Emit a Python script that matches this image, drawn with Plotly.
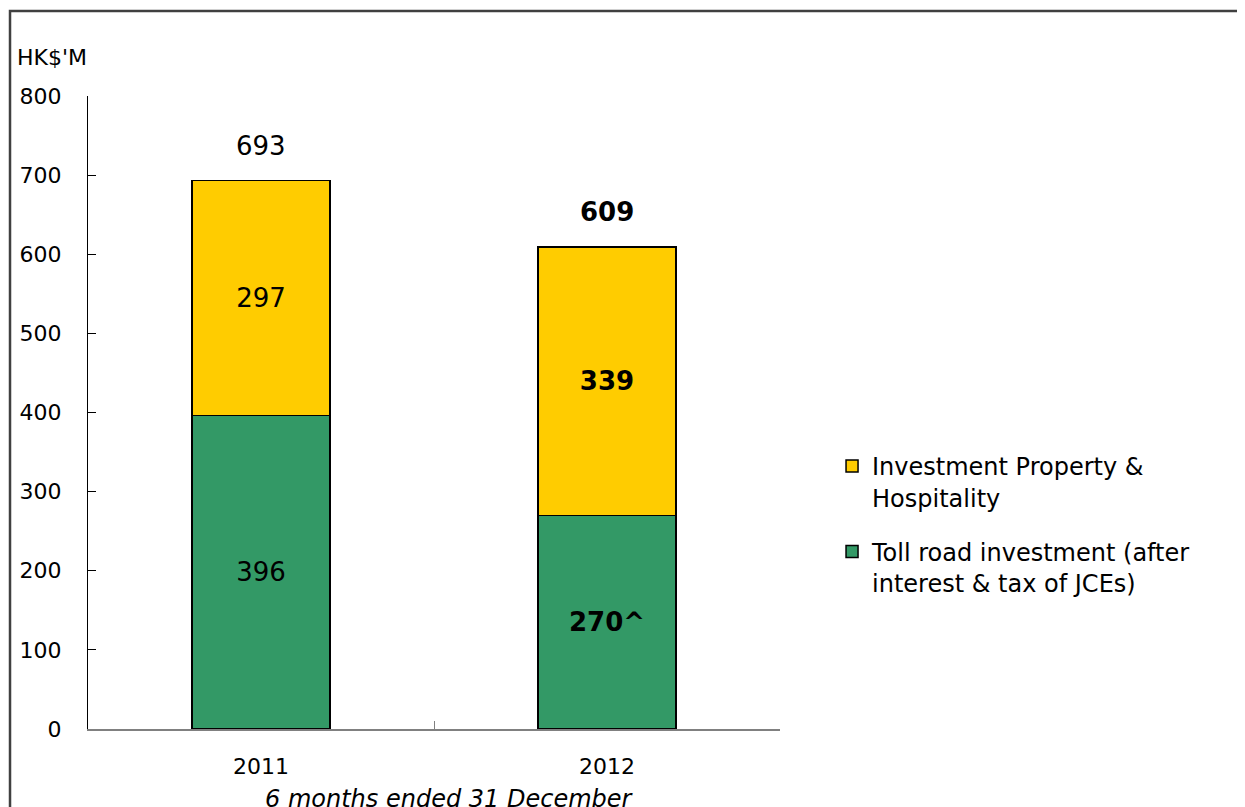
import plotly.graph_objects as go

categories = ["2011", "2012"]
toll_road = [396, 270]
property_hosp = [297, 339]
toll_labels = ["396", "<b>270^</b>"]
prop_labels = ["297", "<b>339</b>"]
totals = [693, 609]
total_labels = ["693", "<b>609</b>"]

FONT = "DejaVu Sans, Liberation Sans, Arial, sans-serif"
OFF = 8  # page body margin

fig = go.Figure()
fig.add_trace(go.Bar(
    x=categories, y=toll_road, name="Toll road investment (after<br>interest & tax of JCEs)",
    marker=dict(color="#339966", line=dict(color="#000000", width=1.5)),
    text=toll_labels, textposition="inside", insidetextanchor="middle",
    textfont=dict(size=26, color="#000000", family=FONT), legendgroup="b",
    legendrank=2, hoverinfo="skip",
))
fig.add_trace(go.Bar(
    x=categories, y=property_hosp, name="Investment Property &<br>Hospitality",
    marker=dict(color="#FFCC00", line=dict(color="#000000", width=1.5)),
    text=prop_labels, textposition="inside", insidetextanchor="middle",
    textfont=dict(size=26, color="#000000", family=FONT), legendgroup="a",
    legendrank=1, hoverinfo="skip",
))

for i, (t, lab) in enumerate(zip(totals, total_labels)):
    fig.add_annotation(x=i, y=t, xref="x", yref="y", text=lab, showarrow=False,
                       yanchor="middle", yshift=35,
                       font=dict(size=26, color="#000000", family=FONT))

fig.add_annotation(xref="paper", yref="paper", x=-0.1055, y=1.0616, text="HK$'M",
                   showarrow=False, xanchor="left", yanchor="middle",
                   font=dict(size=22, color="#000000", family=FONT))
fig.add_annotation(xref="paper", yref="paper", x=0.5217, y=-0.111,
                   text="<i>6 months ended 31 December</i>",
                   showarrow=False, xanchor="center", yanchor="middle",
                   font=dict(size=24, color="#000000", family=FONT))

fig.add_shape(type="rect", xref="paper", yref="paper", x0=-0.1127, y0=1.1343,
              x1=1.8, y1=-0.3, line=dict(color="#404040", width=2.5),
              fillcolor="rgba(0,0,0,0)", layer="above")

fig.update_layout(
    width=1245, height=807,
    margin=dict(l=88 - OFF, r=465 + OFF, t=96 - OFF, b=78 + OFF, autoexpand=False),
    paper_bgcolor="#FFFFFF", plot_bgcolor="#FFFFFF",
    barmode="stack", bargap=0.6,
    font=dict(family=FONT, size=22, color="#000000"),
    showlegend=True,
    legend=dict(x=1.0752, y=0.4504, xanchor="left", yanchor="top",
                traceorder="grouped", tracegroupgap=20, valign="top",
                font=dict(size=24, color="#000000", family=FONT),
                bgcolor="rgba(0,0,0,0)", itemwidth=30),
    xaxis=dict(type="category", range=[-0.5, 1.5], showline=True, linecolor="#808080",
               linewidth=1.5, ticks="inside", tickson="boundaries", ticklen=8,
               tickcolor="#808080", showgrid=False, zeroline=False, ticklabelstandoff=17,
               tickfont=dict(size=22, family=FONT, color="#000000"), fixedrange=True),
    yaxis=dict(range=[0, 800], dtick=100, showline=True, linecolor="#000000", linewidth=1,
               ticks="inside", ticklen=8, tickcolor="#000000", showgrid=False,
               zeroline=False, ticklabelstandoff=21,
               tickfont=dict(size=22, family=FONT, color="#000000"), fixedrange=True),
)

fig.write_html("out.html")
